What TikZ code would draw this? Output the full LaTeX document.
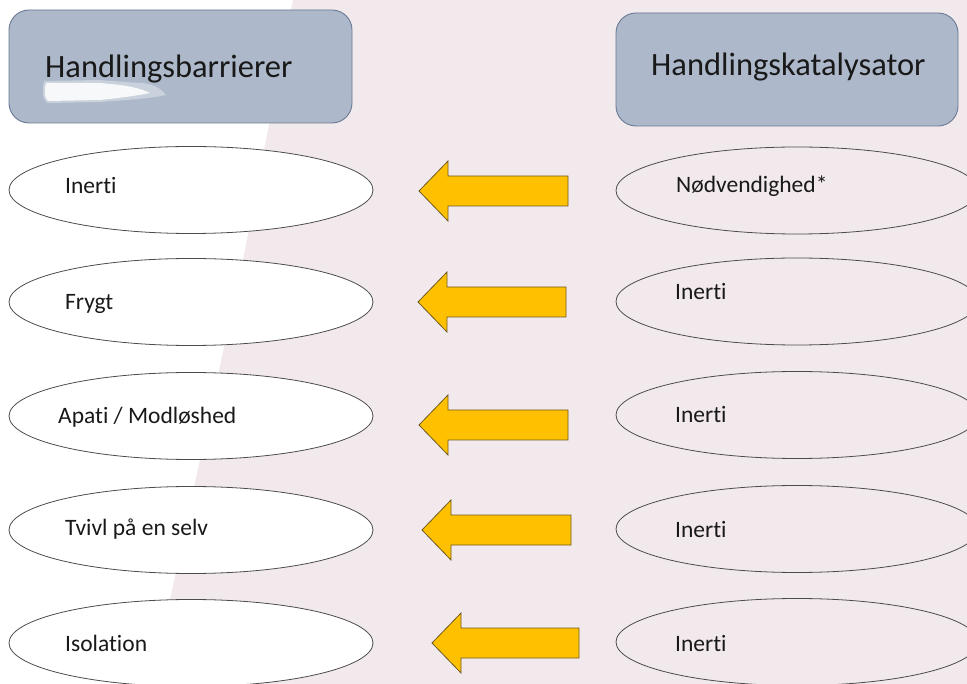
\documentclass[tikz,border=0pt]{standalone}
\usepackage{fontspec}
\setmainfont{Carlito}[Ligatures={NoCommon,NoRare,NoContextual}]
\usetikzlibrary{shapes.geometric}
\definecolor{bgpink}{RGB}{242,233,237}
\definecolor{boxfill}{RGB}{173,185,202}
\definecolor{boxline}{RGB}{105,120,148}
\definecolor{arrfill}{RGB}{255,192,0}
\definecolor{arrline}{RGB}{110,90,35}
\definecolor{ellline}{RGB}{75,75,75}
\definecolor{txt}{RGB}{25,25,25}
\tikzset{
 titlebox/.style={rectangle, draw=boxline, fill=boxfill, rounded corners=20pt, line width=0.9pt, inner sep=0pt},
 ovalL/.style={ellipse, draw=ellline, fill=white, line width=0.8pt, minimum width=364pt, minimum height=87pt, inner sep=0pt},
 ovalR/.style={ellipse, draw=ellline, line width=0.8pt, minimum width=362pt, minimum height=87pt, inner sep=0pt},
 lbl/.style={anchor=base west, inner sep=0pt, text=txt, font=\fontsize{23.5}{28}\selectfont},
 ttl/.style={anchor=base west, inner sep=0pt, text=txt, font=\fontsize{32.5}{38}\selectfont},
 blockarrow/.style={fill=arrfill, draw=arrline, line width=0.8pt, line join=miter},
}
\newcommand\blkarrow[3]{% tip x, centre y, tail x
 \draw[blockarrow] (#1,#2) -- (#1+29,#2-30) -- (#1+29,#2-15) -- (#3,#2-15) -- (#3,#2+15) -- (#1+29,#2+15) -- (#1+29,#2+30) -- cycle;}
\begin{document}
\begin{tikzpicture}[x=1pt,y=-1pt]
\useasboundingbox (0,0) rectangle (967,684);
\clip (0,0) rectangle (967,684);
% background
\fill[white] (0,0) rectangle (967,684);
\fill[bgpink] (293,0) -- (967,0) -- (967,684) -- (152,684) -- (217,380) -- (245,250) -- cycle;

% title boxes
\node[titlebox, minimum width=343pt, minimum height=113pt] (boxL) at (180.5,66.5) {};
\node[titlebox, minimum width=342pt, minimum height=113pt] (boxR) at (787,69.5) {};
% soft white smudge in the left box
\fill[white, opacity=0.35] (44,81) .. controls (42,90) and (42,99) .. (47,103)
  -- (100,102) .. controls (125,100) and (148,99) .. (166,95)
  .. controls (160,87) and (150,83) .. (140,83) .. controls (125,82) and (110,81) .. (100,80) -- cycle;
\fill[white, opacity=0.85] (46,83) .. controls (44,90) and (44,98) .. (48,101)
  -- (100,100) .. controls (120,98) and (135,96) .. (150,93)
  .. controls (140,88) and (125,85) .. (110,84) -- (100,83) -- cycle;
\node[ttl] (tL) at (45,78) {Handlingsbarrierer};
\node[ttl] (tR) at (651,76) {Handlingskatalysator};

% left ellipses
\node[ovalL] (L1) at (191,190) {};
\node[ovalL] (L2) at (191,302) {};
\node[ovalL] (L3) at (191,416) {};
\node[ovalL] (L4) at (191,530) {};
\node[ovalL] (L5) at (191,643) {};
\node[lbl] (l1) at (65,194) {Inerti};
\node[lbl] (l2) at (65,310) {Frygt};
\node[lbl] (l3) at (58,424) {Apati / Modløshed};
\node[lbl] (l4) at (65,536) {Tvivl på en selv};
\node[lbl] (l5) at (65,651) {Isolation};

% right ellipses
\node[ovalR] (R1) at (797,190.5) {};
\node[ovalR] (R2) at (797,301.5) {};
\node[ovalR] (R3) at (797,415) {};
\node[ovalR] (R4) at (797,529) {};
\node[ovalR] (R5) at (797,642) {};
\node[lbl] (r1) at (676,193) {Nødvendighed*};
\node[lbl] (r2) at (675,300) {Inerti};
\node[lbl] (r3) at (675,423) {Inerti};
\node[lbl] (r4) at (675,537) {Inerti};
\node[lbl] (r5) at (675,651) {Inerti};

% block arrows
\blkarrow{419}{191}{568}
\blkarrow{418}{302}{566}
\blkarrow{419}{425}{568}
\blkarrow{422}{530}{571}
\blkarrow{432}{643}{579}
\end{tikzpicture}
\end{document}
